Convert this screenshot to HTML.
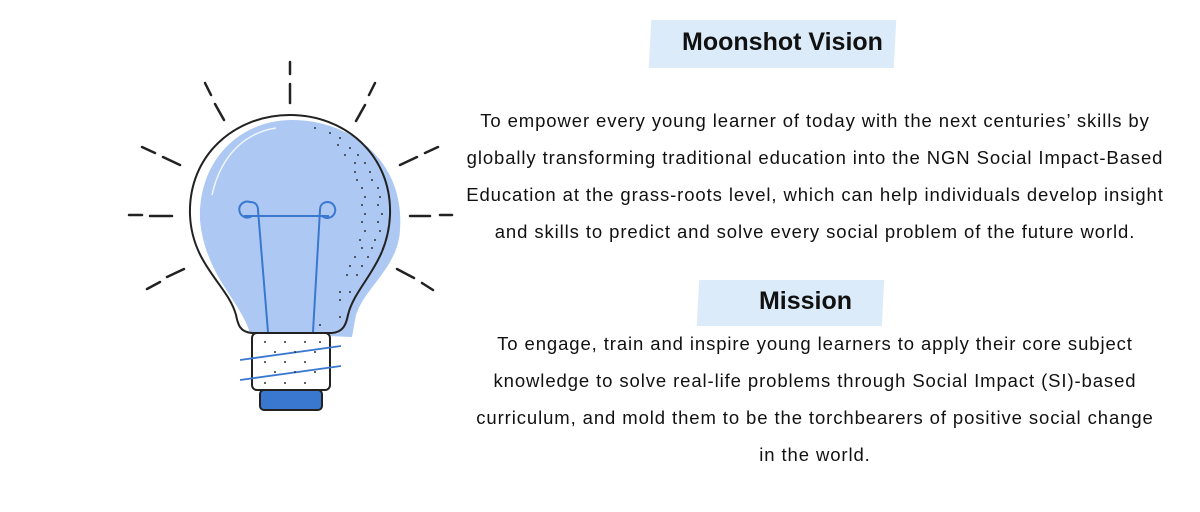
<!DOCTYPE html>
<html><head><style>
body{margin:0;width:1200px;height:512px;background:#fff;position:relative;overflow:hidden;font-family:"Liberation Sans",sans-serif;}
.hl{position:absolute;background:#dcebfa;}
.h{position:absolute;font-weight:bold;font-size:25px;color:#111;text-align:center;}
.p{position:absolute;left:415px;width:800px;text-align:center;font-size:18.5px;letter-spacing:0.9px;line-height:37px;color:#111;white-space:nowrap;}
</style></head><body>
<div class="hl" style="left:650px;top:20px;width:245px;height:48px;transform:skewX(-3deg)"></div>
<div class="h" style="left:650px;top:28px;width:265px">Moonshot Vision</div>
<div class="hl" style="left:698px;top:280px;width:185px;height:46px;transform:skewX(-3deg)"></div>
<div class="h" style="left:698px;top:287px;width:215px">Mission</div>
<div class="p" style="top:102px">To empower every young learner of today with the next centuries’ skills by<br>globally transforming traditional education into the NGN Social Impact-Based<br>Education at the grass-roots level, which can help individuals develop insight<br>and skills to predict and solve every social problem of the future world.</div>
<div class="p" style="top:325px">To engage, train and inspire young learners to apply their core subject<br>knowledge to solve real-life problems through Social Impact (SI)-based<br>curriculum, and mold them to be the torchbearers of positive social change<br>in the world.</div>
<svg width="1200" height="512" style="position:absolute;left:0;top:0">
<g stroke="#222" stroke-width="2.5" stroke-linecap="round">
<line x1="290" y1="62" x2="290" y2="74"/><line x1="290" y1="84" x2="290" y2="103"/>
<line x1="205" y1="83" x2="211" y2="95"/><line x1="215" y1="104" x2="224" y2="120"/>
<line x1="375" y1="83" x2="369" y2="95"/><line x1="365" y1="105" x2="356" y2="121"/>
<line x1="142" y1="147" x2="155" y2="153"/><line x1="163" y1="157" x2="180" y2="165"/>
<line x1="438" y1="147" x2="425" y2="153"/><line x1="417" y1="157" x2="400" y2="165"/>
<line x1="129" y1="215" x2="142" y2="215"/><line x1="150" y1="216" x2="172" y2="216"/>
<line x1="410" y1="216" x2="430" y2="216"/><line x1="440" y1="215" x2="452" y2="215"/>
<line x1="147" y1="289" x2="160" y2="282"/><line x1="167" y1="277" x2="184" y2="269"/>
<line x1="397" y1="269" x2="414" y2="278"/><line x1="422" y1="283" x2="433" y2="290"/>
</g>
<path d="M292 120 C350 120 405 160 400 230 C398 270 360 290 355 320 L352 337 L250 333 C240 300 205 275 200 220 C198 160 240 120 292 120 Z" fill="#adc9f3"/>
<path d="M290 115 C345 115 392 155 390 215 C388 265 355 285 348 315 C346 325 343 332 332 333 L252 333 C240 332 238 325 236 315 C228 285 192 265 190 215 C188 155 235 115 290 115 Z" fill="none" stroke="#222" stroke-width="2"/>
<path d="M276 128 C250 132 222 150 212 195" fill="none" stroke="#fff" stroke-width="1.5" opacity=".8"/>
<g stroke="#3a78d0" stroke-width="2" fill="none">
<path d="M244 216 L329 216 M252 216 A8 8 0 1 1 250 202 C256 202 258 206 258 210 L268 332 M322 216 A8 8 0 1 0 328 202 C322 202 320 206 320 210 L313 332"/>
</g>
<rect x="252" y="333" width="78" height="57" rx="5" fill="#fff" stroke="#222" stroke-width="2"/>
<rect x="260" y="390" width="62" height="20" rx="4" fill="#3a78d0" stroke="#222" stroke-width="2"/>
<line x1="240" y1="360" x2="341" y2="346" stroke="#3a78d0" stroke-width="1.8"/>
<line x1="240" y1="380" x2="341" y2="366" stroke="#3a78d0" stroke-width="1.8"/>
<g fill="#333">
<circle cx="265" cy="342" r="1"/><circle cx="285" cy="342" r="1"/><circle cx="305" cy="342" r="1"/><circle cx="320" cy="342" r="1"/>
<circle cx="275" cy="352" r="1"/><circle cx="295" cy="352" r="1"/><circle cx="315" cy="352" r="1"/>
<circle cx="265" cy="362" r="1"/><circle cx="285" cy="362" r="1"/><circle cx="305" cy="362" r="1"/>
<circle cx="275" cy="372" r="1"/><circle cx="295" cy="372" r="1"/><circle cx="315" cy="372" r="1"/>
<circle cx="265" cy="383" r="1"/><circle cx="285" cy="383" r="1"/><circle cx="305" cy="383" r="1"/>
<circle cx="315" cy="128" r="1"/><circle cx="330" cy="133" r="1"/><circle cx="340" cy="138" r="1"/>
<circle cx="338" cy="145" r="1"/><circle cx="350" cy="148" r="1"/><circle cx="345" cy="155" r="1"/><circle cx="358" cy="155" r="1"/>
<circle cx="355" cy="163" r="1"/><circle cx="365" cy="163" r="1"/><circle cx="355" cy="172" r="1"/><circle cx="370" cy="172" r="1"/>
<circle cx="357" cy="180" r="1"/><circle cx="372" cy="180" r="1"/><circle cx="362" cy="188" r="1"/><circle cx="378" cy="188" r="1"/>
<circle cx="365" cy="197" r="1"/><circle cx="380" cy="197" r="1"/><circle cx="362" cy="205" r="1"/><circle cx="378" cy="205" r="1"/>
<circle cx="365" cy="214" r="1"/><circle cx="382" cy="214" r="1"/><circle cx="362" cy="222" r="1"/><circle cx="378" cy="222" r="1"/>
<circle cx="365" cy="231" r="1"/><circle cx="380" cy="231" r="1"/><circle cx="360" cy="240" r="1"/><circle cx="375" cy="240" r="1"/>
<circle cx="362" cy="248" r="1"/><circle cx="372" cy="248" r="1"/><circle cx="355" cy="257" r="1"/><circle cx="368" cy="257" r="1"/>
<circle cx="350" cy="266" r="1"/><circle cx="362" cy="266" r="1"/><circle cx="347" cy="275" r="1"/><circle cx="357" cy="275" r="1"/>
<circle cx="340" cy="292" r="1"/><circle cx="350" cy="292" r="1"/><circle cx="340" cy="300" r="1"/><circle cx="340" cy="317" r="1"/><circle cx="320" cy="325" r="1"/>
</g>
</svg>
</body></html>
